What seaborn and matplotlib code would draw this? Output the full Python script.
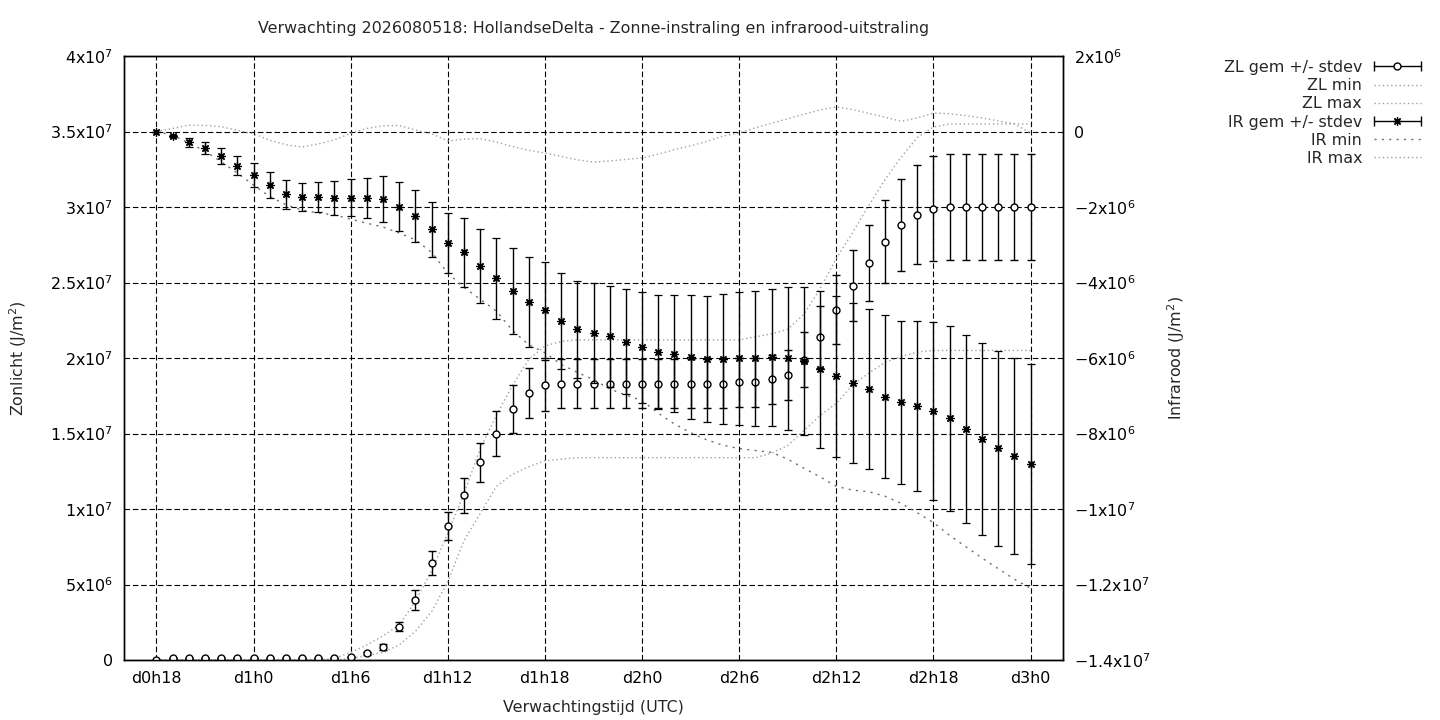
import matplotlib
matplotlib.use('Agg')
import matplotlib.pyplot as plt
from matplotlib.lines import Line2D
from matplotlib.legend_handler import HandlerLine2D, HandlerTuple
import numpy as np
import pandas as pd
import seaborn as sns

titel = 'Verwachting 2026080518: HollandseDelta - Zonne-instraling en infrarood-uitstraling'

# uren na d0h18
uren = np.arange(55)
x_ticks = [0, 6, 12, 18, 24, 30, 36, 42, 48, 54]
x_labels = ['d0h18', 'd1h0', 'd1h6', 'd1h12', 'd1h18', 'd2h0', 'd2h6', 'd2h12', 'd2h18', 'd3h0']

zl_ticks = [0, 5e6, 1e7, 1.5e7, 2e7, 2.5e7, 3e7, 3.5e7, 4e7]
zl_labels = ['0', r'$\mathregular{5x10^{6}}$', r'$\mathregular{1x10^{7}}$', r'$\mathregular{1.5x10^{7}}$',
             r'$\mathregular{2x10^{7}}$', r'$\mathregular{2.5x10^{7}}$', r'$\mathregular{3x10^{7}}$',
             r'$\mathregular{3.5x10^{7}}$', r'$\mathregular{4x10^{7}}$']
ir_ticks = [-1.4e7, -1.2e7, -1e7, -8e6, -6e6, -4e6, -2e6, 0, 2e6]
ir_labels = [r'$\mathregular{-1.4x10^{7}}$', r'$\mathregular{-1.2x10^{7}}$', r'$\mathregular{-1x10^{7}}$',
             r'$\mathregular{-8x10^{6}}$', r'$\mathregular{-6x10^{6}}$', r'$\mathregular{-4x10^{6}}$',
             r'$\mathregular{-2x10^{6}}$', '0', r'$\mathregular{2x10^{6}}$']

# Zonlicht (x 1e7 J/m2)
zl_gem = [0.0, 0.01, 0.01, 0.01, 0.01, 0.01, 0.01, 0.01, 0.01, 0.01, 0.01, 0.015, 0.02, 0.045, 0.085,
          0.22, 0.40, 0.64, 0.89, 1.09, 1.31, 1.50, 1.66, 1.77, 1.82,
          1.83, 1.83, 1.83, 1.83, 1.83, 1.83, 1.83, 1.83, 1.83, 1.83, 1.83,
          1.84, 1.84, 1.86, 1.89, 1.99, 2.14, 2.32, 2.48, 2.63, 2.77, 2.88, 2.95, 2.99,
          3.00, 3.00, 3.00, 3.00, 3.00, 3.00]
zl_std = [0, 0, 0, 0, 0, 0, 0, 0, 0, 0, 0, 0.0, 0.003, 0.01, 0.02,
          0.03, 0.066, 0.08, 0.093, 0.115, 0.13, 0.15, 0.158, 0.165, 0.17,
          0.163, 0.163, 0.163, 0.163, 0.163, 0.163, 0.163, 0.163, 0.163, 0.163, 0.163,
          0.163, 0.163, 0.163, 0.165, 0.185, 0.207, 0.228, 0.234, 0.25, 0.274, 0.305, 0.328, 0.347,
          0.35, 0.35, 0.35, 0.35, 0.35, 0.35]
zl_min = [0, 0, 0, 0, 0, 0, 0, 0, 0, 0, 0, 0,
          0.01, 0.03, 0.05, 0.10, 0.19, 0.32, 0.52, 0.79, 0.97, 1.15, 1.23, 1.28, 1.32, 1.33,
          1.34, 1.34, 1.34, 1.34, 1.34, 1.34, 1.34, 1.34, 1.34, 1.34, 1.34, 1.34,
          1.37, 1.42, 1.52, 1.62, 1.70, 1.82, 1.90, 1.97, 2.01, 2.04, 2.05,
          2.05, 2.05, 2.05, 2.05, 2.05, 2.05]
zl_max = [0, 0, 0, 0, 0, 0, 0, 0, 0, 0, 0,
          0.01, 0.05, 0.10, 0.16, 0.23, 0.39, 0.59, 0.84, 1.10, 1.40, 1.62, 1.82, 1.99, 2.08, 2.11,
          2.12, 2.12, 2.12, 2.12, 2.12, 2.12, 2.12, 2.12, 2.12, 2.12, 2.12,
          2.14, 2.16, 2.19, 2.29, 2.46, 2.66, 2.83, 3.01, 3.18, 3.33, 3.46, 3.53,
          3.55, 3.55, 3.55, 3.55, 3.55, 3.55]

# Infrarood (x 1e6 J/m2)
ir_gem = [0.0, -0.12, -0.29, -0.43, -0.65, -0.91, -1.15, -1.42, -1.66, -1.74, -1.74, -1.77, -1.75, -1.75,
          -1.79, -1.99, -2.24, -2.59, -2.96, -3.20, -3.56, -3.89, -4.23, -4.52, -4.73, -5.02, -5.24,
          -5.33, -5.42, -5.57, -5.72, -5.84, -5.89, -5.98, -6.03, -6.03, -6.01, -6.01, -5.98, -6.01,
          -6.08, -6.30, -6.48, -6.67, -6.83, -7.03, -7.17, -7.27, -7.41, -7.60, -7.89, -8.15, -8.39,
          -8.60, -8.82]
ir_std = [0.0, 0.03, 0.12, 0.16, 0.20, 0.25, 0.31, 0.34, 0.38, 0.37, 0.40, 0.45, 0.50, 0.53, 0.60,
          0.65, 0.68, 0.73, 0.79, 0.92, 0.99, 1.07, 1.14, 1.19, 1.26, 1.26, 1.29, 1.32, 1.34, 1.39,
          1.47, 1.50, 1.55, 1.64, 1.66, 1.72, 1.76, 1.79, 1.82, 1.90, 1.95, 2.08, 2.13, 2.12, 2.12,
          2.16, 2.16, 2.24, 2.36, 2.45, 2.49, 2.54, 2.58, 2.60, 2.65]
ir_min = [0.0, -0.1, -0.3, -0.52, -0.8, -1.1, -1.42, -1.72, -1.94, -2.08, -2.16, -2.21, -2.32, -2.43,
          -2.53, -2.69, -2.87, -3.20, -3.75, -4.13, -4.44, -4.76, -5.27, -5.65, -5.86, -6.17, -6.38,
          -6.57, -6.82, -6.98, -7.13, -7.46, -7.75, -7.98, -8.17, -8.31, -8.40, -8.45, -8.50, -8.68,
          -8.92, -9.15, -9.40, -9.50, -9.54, -9.66, -9.85, -10.10, -10.36, -10.70, -11.00, -11.30,
          -11.58, -11.86, -12.10]
ir_max = [0.0, 0.08, 0.17, 0.16, 0.13, 0.03, -0.06, -0.23, -0.35, -0.41, -0.33, -0.22, -0.05, 0.08,
          0.15, 0.16, 0.04, -0.06, -0.25, -0.20, -0.19, -0.28, -0.40, -0.50, -0.57, -0.66, -0.75,
          -0.81, -0.78, -0.74, -0.70, -0.60, -0.48, -0.38, -0.26, -0.12, -0.04, 0.10, 0.22, 0.34,
          0.46, 0.57, 0.65, 0.58, 0.48, 0.38, 0.27, 0.36, 0.49, 0.47, 0.42, 0.36, 0.28, 0.20, -0.04]

df = pd.DataFrame({'uur': uren,
                   'zl_gem': np.array(zl_gem) * 1e7, 'zl_std': np.array(zl_std) * 1e7,
                   'zl_min': np.array(zl_min) * 1e7, 'zl_max': np.array(zl_max) * 1e7,
                   'ir_gem': np.array(ir_gem) * 1e6, 'ir_std': np.array(ir_std) * 1e6,
                   'ir_min': np.array(ir_min) * 1e6, 'ir_max': np.array(ir_max) * 1e6})

sns.set_style('white')
plt.rcParams['font.family'] = ['DejaVu Sans']
plt.rcParams['mathtext.fontset'] = 'dejavusans'
fs = 11.4

licht = '#a0a0a0'
donker = '#6e6e6e'
stip = (0, (1, 2))
stip_ir = (0, (1.5, 3.8))

fig = plt.figure(figsize=(14.4, 7.2), dpi=100)
ax = fig.add_axes([124 / 1440, 60 / 720, 939 / 1440, 604 / 720])
ax2 = ax.twinx()

# Zonlicht op linker as
sns.lineplot(data=df, x='uur', y='zl_min', ax=ax, color=licht, linestyle=stip, linewidth=1)
sns.lineplot(data=df, x='uur', y='zl_max', ax=ax, color=licht, linestyle=stip, linewidth=1)
ax.errorbar(df['uur'], df['zl_gem'], yerr=df['zl_std'], ls='none', marker='o', ms=5,
            mfc='white', mec='black', mew=1, ecolor='black', elinewidth=1, capsize=2.7,
            capthick=1, zorder=3)

# Infrarood op rechter as
sns.lineplot(data=df, x='uur', y='ir_min', ax=ax2, color=donker, linestyle=stip_ir, linewidth=1)
sns.lineplot(data=df, x='uur', y='ir_max', ax=ax2, color=licht, linestyle=stip, linewidth=1)
ax2.errorbar(df['uur'], df['ir_gem'], yerr=df['ir_std'], ls='none', marker=(8, 2, 0), ms=6,
             color='black', mew=0.9, ecolor='black', elinewidth=1, capsize=2.7, capthick=1, zorder=3)

ax.set_xlim(-2, 56)
ax.set_ylim(0, 4e7)
ax2.set_ylim(-1.4e7, 2e6)
ax.set_xticks(x_ticks)
ax.set_xticklabels(x_labels)
ax.set_yticks(zl_ticks)
ax.set_yticklabels(zl_labels)
ax2.set_yticks(ir_ticks)
ax2.set_yticklabels(ir_labels)

ax.grid(True, color='black', linewidth=0.8, linestyle=(0, (5, 2.5)))
ax2.grid(False)
for a in (ax, ax2):
    a.tick_params(length=0, pad=8, labelsize=fs, colors='black')
    for s in a.spines.values():
        s.set_color('black')
        s.set_linewidth(1)

ax.set_xlabel('Verwachtingstijd (UTC)', fontsize=fs)
ax.set_ylabel('Zonlicht (J/m$^2$)', fontsize=fs)
ax2.set_ylabel('Infrarood (J/m$^2$)', fontsize=fs)
ax.xaxis.set_label_coords(0.5, -0.066)
ax.yaxis.set_label_coords(-0.101, 0.5)
ax2.yaxis.set_label_coords(1.109, 0.5)
fig.text(593.5 / 1440, 1 - 28 / 720, titel, ha='center', va='center', fontsize=fs)

# Legenda in gnuplot-stijl
kap1 = Line2D([], [], color='black', lw=1, marker='|', ms=7, mew=1)
kap2 = Line2D([], [], color='black', lw=1, marker='|', ms=7, mew=1)
zl_pt = Line2D([], [], ls='none', marker='o', ms=5, mfc='white', mec='black', mew=1)
ir_pt = Line2D([], [], ls='none', marker=(8, 2, 0), ms=6, color='black', mew=0.9)
h_zlmin = Line2D([], [], color=licht, linestyle=stip, lw=1)
h_zlmax = Line2D([], [], color=licht, linestyle=stip, lw=1)
h_irmin = Line2D([], [], color=donker, linestyle=stip_ir, lw=1)
h_irmax = Line2D([], [], color=licht, linestyle=stip, lw=1)
handles = [(kap1, zl_pt), h_zlmin, h_zlmax, (kap2, ir_pt), h_irmin, h_irmax]
labels = ['ZL gem +/- stdev', 'ZL min', 'ZL max', 'IR gem +/- stdev', 'IR min', 'IR max']
hmap = {kap1: HandlerLine2D(numpoints=2, marker_pad=0),
        kap2: HandlerLine2D(numpoints=2, marker_pad=0),
        tuple: HandlerTuple(ndivide=1)}
fig.legend(handles, labels, handler_map=hmap, loc='upper right',
           bbox_to_anchor=(1421 / 1440, 1 - 60 / 720), frameon=False, markerfirst=False,
           fontsize=fs, handlelength=3.0, handletextpad=0.72, labelspacing=0.2,
           borderpad=0, borderaxespad=0)

fig.savefig('out.png', dpi=100)
